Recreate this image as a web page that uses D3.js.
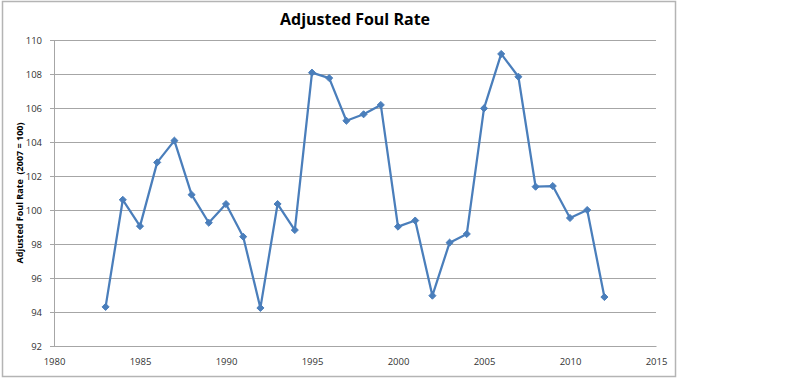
<!DOCTYPE html>
<html>
<head>
<meta charset="utf-8">
<script src="https://cdn.jsdelivr.net/npm/d3@7"></script>
<style>
  body { margin: 0; background: #fff; }
  svg text { font-family: "Open Sans", "DejaVu Sans", sans-serif; }
</style>
</head>
<body>
<svg id="chart" width="799" height="379"></svg>
<script>
// values
const years = [1983, 1984, 1985, 1986, 1987, 1988, 1989, 1990, 1991, 1992,
               1993, 1994, 1995, 1996, 1997, 1998, 1999, 2000, 2001, 2002,
               2003, 2004, 2005, 2006, 2007, 2008, 2009, 2010, 2011, 2012];
const foulRate = [94.3, 100.6, 99.05, 102.8, 104.08, 100.9, 99.25, 100.35, 98.43, 94.24,
                  100.35, 98.82, 108.08, 107.76, 105.25, 105.63, 106.18, 99.02, 99.38, 94.96,
                  98.08, 98.59, 105.98, 109.18, 107.84, 101.37, 101.41, 99.53, 100.0, 94.88];
const xTicks = [1980, 1985, 1990, 1995, 2000, 2005, 2010, 2015];
const yTicks = [92, 94, 96, 98, 100, 102, 104, 106, 108, 110];

const title = "Adjusted Foul Rate";
const yTitle = "Adjusted Foul Rate  (2007 = 100)";

const padding = { left: 54, top: 40, right: 143, bottom: 33 };
const width = 799, height = 379;
const innerWidth = width - padding.left - padding.right;
const innerHeight = height - padding.top - padding.bottom;

const svg = d3.select("#chart");

// outer chart border
svg.append("rect")
    .attr("x", 2.5).attr("y", 1.5)
    .attr("width", 673).attr("height", 375)
    .attr("fill", "#fff")
    .attr("stroke", "#b4b4b4")
    .attr("stroke-width", 1.5);

const g = svg.append("g")
    .attr("transform", `translate(${padding.left}, ${padding.top})`);

const x = d3.scaleLinear().domain([1980, 2015]).range([0, innerWidth]);
const y = d3.scaleLinear().domain([92, 110]).range([innerHeight, 0]);

// gridlines
g.selectAll(".grid")
    .data(yTicks)
    .enter()
    .append("line")
    .attr("class", "grid")
    .attr("x1", 0)
    .attr("x2", innerWidth)
    .attr("y1", d => Math.round(y(d)) + 0.5)
    .attr("y2", d => Math.round(y(d)) + 0.5)
    .attr("stroke", "#a6a6a6")
    .attr("stroke-width", 1.2);

// y axis
const yAxis = d3.axisLeft(y)
    .tickValues(yTicks)
    .tickSize(4)
    .tickPadding(8);

g.append("g")
    .attr("class", "axis y")
    .call(yAxis)
    .call(s => s.select(".domain").attr("stroke", "#a6a6a6"))
    .call(s => s.selectAll(".tick line").attr("stroke", "#a6a6a6"))
    .call(s => s.selectAll("text").attr("font-size", 9.5).attr("fill", "#333"));

// x axis
const xAxis = d3.axisBottom(x)
    .tickValues(xTicks)
    .tickSize(0)
    .tickPadding(12)
    .tickFormat(d3.format("d"));

g.append("g")
    .attr("class", "axis x")
    .attr("transform", `translate(0, ${innerHeight})`)
    .call(xAxis)
    .call(s => s.select(".domain").attr("stroke", "#a6a6a6"))
    .call(s => s.selectAll("text").attr("font-size", 9.5).attr("fill", "#333"));

// series line
const data = years.map((yr, i) => ({ x: yr, y: foulRate[i] }));

g.append("path")
    .datum(data)
    .attr("fill", "none")
    .attr("stroke", "#4a7ebb")
    .attr("stroke-width", 2.25)
    .attr("stroke-linejoin", "round")
    .attr("d", d3.line().x(d => x(d.x)).y(d => y(d.y)));

// diamond markers
g.selectAll(".pt")
    .data(data)
    .enter()
    .append("path")
    .attr("class", "pt")
    .attr("d", d3.symbol().type(d3.symbolDiamond2).size(32))
    .attr("transform", d => `translate(${x(d.x)}, ${y(d.y)})`)
    .attr("fill", "#4a7ebb")
    .attr("stroke", "#4a7ebb")
    .attr("stroke-width", 1);

// titles
svg.append("text")
    .attr("x", 355)
    .attr("y", 25)
    .attr("text-anchor", "middle")
    .attr("font-size", 16)
    .attr("font-weight", "bold")
    .attr("fill", "#000")
    .text(title);

svg.append("text")
    .attr("transform", `translate(23, ${padding.top + innerHeight / 2}) rotate(-90)`)
    .attr("text-anchor", "middle")
    .attr("font-size", 9)
    .attr("font-weight", "bold")
    .attr("fill", "#000")
    .attr("xml:space", "preserve")
    .style("white-space", "pre")
    .text(yTitle);
</script>
</body>
</html>
